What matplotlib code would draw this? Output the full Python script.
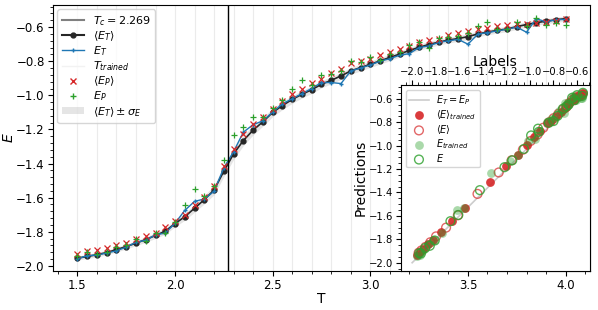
import matplotlib
matplotlib.use("Agg")
import matplotlib.pyplot as plt
import numpy as np
from matplotlib.ticker import AutoMinorLocator, MultipleLocator
from matplotlib.lines import Line2D
from matplotlib.patches import Patch

T = [1.50, 1.55, 1.60, 1.65, 1.70, 1.75, 1.80, 1.85, 1.90, 1.95,
     2.00, 2.05, 2.10, 2.15, 2.20, 2.25, 2.30, 2.35, 2.40, 2.45,
     2.50, 2.55, 2.60, 2.65, 2.70, 2.75, 2.80, 2.85, 2.90, 2.95,
     3.00, 3.05, 3.10, 3.15, 3.20, 3.25, 3.30, 3.35, 3.40, 3.45,
     3.50, 3.55, 3.60, 3.65, 3.70, 3.75, 3.80, 3.85, 3.90, 3.95, 4.00]

E_T_mean = [-1.955, -1.945, -1.935, -1.922, -1.905, -1.887, -1.867, -1.846, -1.822, -1.797,
            -1.752, -1.712, -1.662, -1.612, -1.555, -1.445, -1.343, -1.265, -1.204, -1.155,
            -1.100, -1.060, -1.024, -0.994, -0.967, -0.935, -0.912, -0.886, -0.857, -0.837,
            -0.818, -0.798, -0.778, -0.758, -0.737, -0.718, -0.702, -0.688, -0.676, -0.667,
            -0.656, -0.640, -0.629, -0.619, -0.611, -0.597, -0.585, -0.574, -0.565, -0.557, -0.550]

E_T = [-1.960, -1.940, -1.937, -1.925, -1.912, -1.890, -1.862, -1.850, -1.818, -1.808,
       -1.750, -1.675, -1.622, -1.608, -1.563, -1.425, -1.330, -1.216, -1.172, -1.150,
       -1.098, -1.050, -1.020, -0.990, -0.960, -0.925, -0.925, -0.931, -0.857, -0.840,
       -0.822, -0.800, -0.785, -0.765, -0.755, -0.720, -0.710, -0.690, -0.680, -0.672,
       -0.700, -0.642, -0.632, -0.622, -0.612, -0.600, -0.630, -0.550, -0.570, -0.556, -0.555]

E_P_mean = [-1.930, -1.915, -1.908, -1.895, -1.880, -1.865, -1.840, -1.825, -1.805, -1.775,
            -1.740, -1.700, -1.645, -1.595, -1.530, -1.412, -1.314, -1.229, -1.171, -1.125,
            -1.078, -1.035, -0.994, -0.960, -0.925, -0.905, -0.871, -0.847, -0.810, -0.800,
            -0.788, -0.765, -0.745, -0.728, -0.713, -0.690, -0.675, -0.667, -0.647, -0.637,
            -0.625, -0.610, -0.606, -0.595, -0.588, -0.582, -0.580, -0.576, -0.569, -0.563, -0.553]

E_P = [-1.940, -1.918, -1.930, -1.920, -1.890, -1.875, -1.840, -1.855, -1.810, -1.810,
       -1.745, -1.645, -1.549, -1.592, -1.530, -1.380, -1.231, -1.184, -1.128, -1.125,
       -1.076, -1.028, -0.960, -0.913, -0.940, -0.882, -0.875, -0.855, -0.800, -0.805,
       -0.776, -0.790, -0.760, -0.745, -0.706, -0.685, -0.725, -0.665, -0.655, -0.650,
       -0.635, -0.592, -0.572, -0.612, -0.612, -0.569, -0.595, -0.549, -0.590, -0.575, -0.590]

sigma_E = [0.012, 0.012, 0.013, 0.013, 0.014, 0.014, 0.015, 0.016, 0.017, 0.018,
           0.019, 0.021, 0.023, 0.025, 0.028, 0.032, 0.033, 0.030, 0.028, 0.026,
           0.025, 0.024, 0.023, 0.022, 0.022, 0.021, 0.021, 0.020, 0.020, 0.020,
           0.019, 0.019, 0.019, 0.018, 0.018, 0.018, 0.018, 0.017, 0.017, 0.017,
           0.017, 0.017, 0.016, 0.016, 0.016, 0.016, 0.016, 0.016, 0.015, 0.015, 0.015]

T_trained = T[::2]
Tc = 2.269

T_a = np.array(T)
Em = np.array(E_T_mean)
Et = np.array(E_T)
Pm = np.array(E_P_mean)
Pt = np.array(E_P)
sg = np.array(sigma_E)
trained = np.arange(len(T)) % 2 == 0

fig = plt.figure(figsize=(5.98, 3.10), dpi=100)
ax = fig.add_axes([0.0886, 0.126, 0.898, 0.858])

for tt in T_trained:
    ax.axvline(tt, color='0.92', lw=0.8, zorder=0)
ax.fill_between(T_a, Em - sg, Em + sg, color='0.6', alpha=0.25, lw=0, zorder=1)
ax.plot(T_a, Em, '-o', color='0.15', lw=1.2, ms=3.5, zorder=3)
ax.plot(T_a, Et, '-', color='tab:blue', lw=1.0, marker='+', ms=3, zorder=4)
ax.plot(T_a, Pm, 'x', color='tab:red', ms=3.8, mew=0.9, zorder=5)
ax.plot(T_a, Pt, '+', color='tab:green', ms=4, mew=0.9, zorder=5)
ax.axvline(Tc, color='k', lw=1.0, zorder=6)

ax.set_xlim(1.375, 4.125)
ax.set_ylim(-2.03, -0.47)
ax.xaxis.set_major_locator(MultipleLocator(0.5))
ax.xaxis.set_minor_locator(AutoMinorLocator(5))
ax.yaxis.set_major_locator(MultipleLocator(0.2))
ax.yaxis.set_minor_locator(AutoMinorLocator(5))
ax.tick_params(labelsize=8.5, pad=2.5)
ax.set_xlabel('T', fontsize=10, labelpad=0)
ax.set_ylabel(r'$E$', fontsize=10, labelpad=0)

handles = [
    Line2D([], [], color='0.5', lw=1.5),
    Line2D([], [], color='0.15', lw=1.5, marker='o', ms=3.5),
    Line2D([], [], color='tab:blue', lw=1.0, marker='+', ms=3),
    Line2D([], [], color='0.95', lw=1.0),
    Line2D([], [], color='tab:red', ls='none', marker='x', ms=4),
    Line2D([], [], color='tab:green', ls='none', marker='+', ms=4),
    Patch(facecolor='0.6', alpha=0.25, lw=0),
]
labels = [r'$T_c = 2.269$', r'$\langle E_T\rangle$', r'$E_T$', r'$T_{trained}$',
          r'$\langle E_P\rangle$', r'$E_P$', r'$\langle E_T\rangle \pm \sigma_E$']
ax.legend(handles, labels, loc='upper left', fontsize=8, framealpha=0.8,
          labelspacing=0.13, borderpad=0.4, borderaxespad=0.4, handleheight=0.6)

ins = ax.inset_axes([0.648, 0.0, 0.352, 0.70])
ins.plot([-2.0, -0.55], [-2.0, -0.55], color='0.8', lw=1.2, zorder=1, label=r'$E_T = E_P$')
ins.scatter(Em[trained], Pm[trained], s=40, color='tab:red', alpha=0.9, lw=0,
            label=r'$\langle E\rangle_{trained}$', zorder=3)
ins.scatter(Em[~trained], Pm[~trained], s=40, facecolors='none', edgecolors='tab:red',
            alpha=0.7, lw=1.0, label=r'$\langle E\rangle$', zorder=3)
ins.scatter(Et[trained], Pt[trained], s=40, color='tab:green', alpha=0.4, lw=0,
            label=r'$E_{trained}$', zorder=4)
ins.scatter(Et[~trained], Pt[~trained], s=40, facecolors='none', edgecolors='tab:green',
            alpha=0.8, lw=1.0, label=r'$E$', zorder=4)
ins.set_xlim(-2.095, -0.49)
ins.set_ylim(-2.07, -0.48)
ins.xaxis.set_major_locator(MultipleLocator(0.2))
ins.xaxis.set_minor_locator(AutoMinorLocator(4))
ins.yaxis.set_major_locator(MultipleLocator(0.2))
ins.yaxis.set_minor_locator(AutoMinorLocator(4))
ins.xaxis.tick_top()
ins.xaxis.set_label_position('top')
ins.tick_params(axis='x', labelsize=7.2, pad=2)
ins.tick_params(axis='y', labelsize=7.2, pad=2)
ins.set_xlabel('Labels', fontsize=10, labelpad=1)
ins.set_ylabel('Predictions', fontsize=10, labelpad=1)
ins.legend(loc='upper left', fontsize=7, framealpha=0.8, labelspacing=0.12,
           borderpad=0.35)

fig.savefig('out.png', dpi=100)
